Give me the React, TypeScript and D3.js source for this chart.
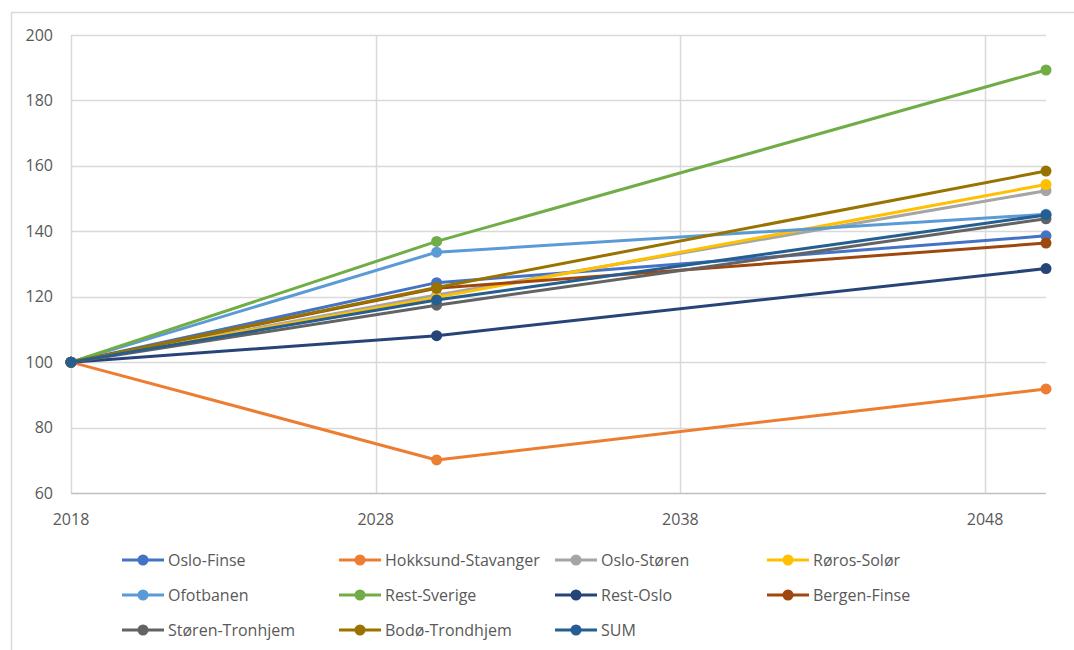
import React from "react";
import * as d3 from "d3";

// Index series (2018 = 100) for the freight corridors
const years = [2018, 2030, 2050];
const seriesNames = [
  "Oslo-Finse",
  "Hokksund-Stavanger",
  "Oslo-Støren",
  "Røros-Solør",
  "Ofotbanen",
  "Rest-Sverige",
  "Rest-Oslo",
  "Bergen-Finse",
  "Støren-Tronhjem",
  "Bodø-Trondhjem",
  "SUM",
];
const osloFinse = [100, 124.3, 138.6];
const hokksundStavanger = [100, 70.1, 91.8];
const osloStoren = [100, 120.5, 152.4];
const rorosSolor = [100, 119.8, 154.3];
const ofotbanen = [100, 133.6, 145.2];
const restSverige = [100, 136.9, 189.3];
const restOslo = [100, 108.1, 128.6];
const bergenFinse = [100, 122.6, 136.4];
const storenTronhjem = [100, 117.4, 143.8];
const bodoTrondhjem = [100, 122.8, 158.4];
const sum = [100, 119.0, 145.0];
const seriesValues = [
  osloFinse,
  hokksundStavanger,
  osloStoren,
  rorosSolor,
  ofotbanen,
  restSverige,
  restOslo,
  bergenFinse,
  storenTronhjem,
  bodoTrondhjem,
  sum,
];
const colors = [
  "#4472C4",
  "#ED7D31",
  "#A5A5A5",
  "#FFC000",
  "#5B9BD5",
  "#70AD47",
  "#264478",
  "#9E480E",
  "#636363",
  "#997300",
  "#255E91",
];
const yTicks = [60, 80, 100, 120, 140, 160, 180, 200];
const xTicks = [2018, 2028, 2038, 2048];

const W = 1074;
const H = 650;
const FONT = "'Open Sans', sans-serif";
const TEXT = "#595959";

export default function App() {
  const x = d3.scaleLinear().domain([2018, 2050]).range([71, 1046]);
  const y = d3.scaleLinear().domain([60, 200]).range([493, 35]);
  const line = d3
    .line<number>()
    .x((_, i) => x(years[i]))
    .y((v) => y(v));

  const legendCols = [122, 339, 555, 767];
  const legendRows = [560, 595, 630];

  return (
    <svg
      width={W}
      height={H}
      style={{ position: "absolute", left: 0, top: 0, background: "#fff" }}
    >
      {/* chart frame */}
      <rect
        x={11.5}
        y={12.5}
        width={1100}
        height={660}
        fill="#fff"
        stroke="#D9D9D9"
        strokeWidth={1.5}
      />
      {/* horizontal gridlines */}
      {yTicks.map((t) =>
        t === 60 ? null : (
          <line
            key={"gy" + t}
            x1={x(2018)}
            x2={x(2050)}
            y1={Math.round(y(t)) + 0.5}
            y2={Math.round(y(t)) + 0.5}
            stroke="#D9D9D9"
            strokeWidth={1.5}
          />
        )
      )}
      {/* vertical gridlines */}
      {xTicks.map((t) => (
        <line
          key={"gx" + t}
          x1={Math.round(x(t)) + 0.5}
          x2={Math.round(x(t)) + 0.5}
          y1={y(200)}
          y2={y(60)}
          stroke="#D9D9D9"
          strokeWidth={1.5}
        />
      ))}
      {/* x axis line */}
      <line
        x1={x(2018)}
        x2={x(2050)}
        y1={Math.round(y(60)) + 0.5}
        y2={Math.round(y(60)) + 0.5}
        stroke="#BFBFBF"
        strokeWidth={1.5}
      />
      {/* y tick labels */}
      {yTicks.map((t) => (
        <text
          key={"ly" + t}
          x={53}
          y={y(t)}
          dy="0.35em"
          textAnchor="end"
          fontFamily={FONT}
          fontSize={16}
          fill={TEXT}
        >
          {t}
        </text>
      ))}
      {/* x tick labels */}
      {xTicks.map((t) => (
        <text
          key={"lx" + t}
          x={x(t)}
          y={519}
          dy="0.35em"
          textAnchor="middle"
          fontFamily={FONT}
          fontSize={16}
          fill={TEXT}
        >
          {t}
        </text>
      ))}
      {/* series */}
      {seriesValues.map((vals, si) => (
        <g key={"s" + si}>
          <path
            d={line(vals) || ""}
            fill="none"
            stroke={colors[si]}
            strokeWidth={3}
            strokeLinejoin="round"
          />
          {vals.map((v, i) => (
            <circle
              key={i}
              cx={x(years[i])}
              cy={y(v)}
              r={5.5}
              fill={colors[si]}
            />
          ))}
        </g>
      ))}
      {/* legend */}
      {seriesNames.map((name, i) => {
        const lx = legendCols[i % 4];
        const ly = legendRows[Math.floor(i / 4)];
        return (
          <g key={"lg" + i}>
            <line
              x1={lx}
              x2={lx + 42}
              y1={ly}
              y2={ly}
              stroke={colors[i]}
              strokeWidth={3}
            />
            <circle cx={lx + 21} cy={ly} r={5.5} fill={colors[i]} />
            <text
              x={lx + 46}
              y={ly}
              dy="0.35em"
              fontFamily={FONT}
              fontSize={16}
              fill={TEXT}
            >
              {name}
            </text>
          </g>
        );
      })}
    </svg>
  );
}
